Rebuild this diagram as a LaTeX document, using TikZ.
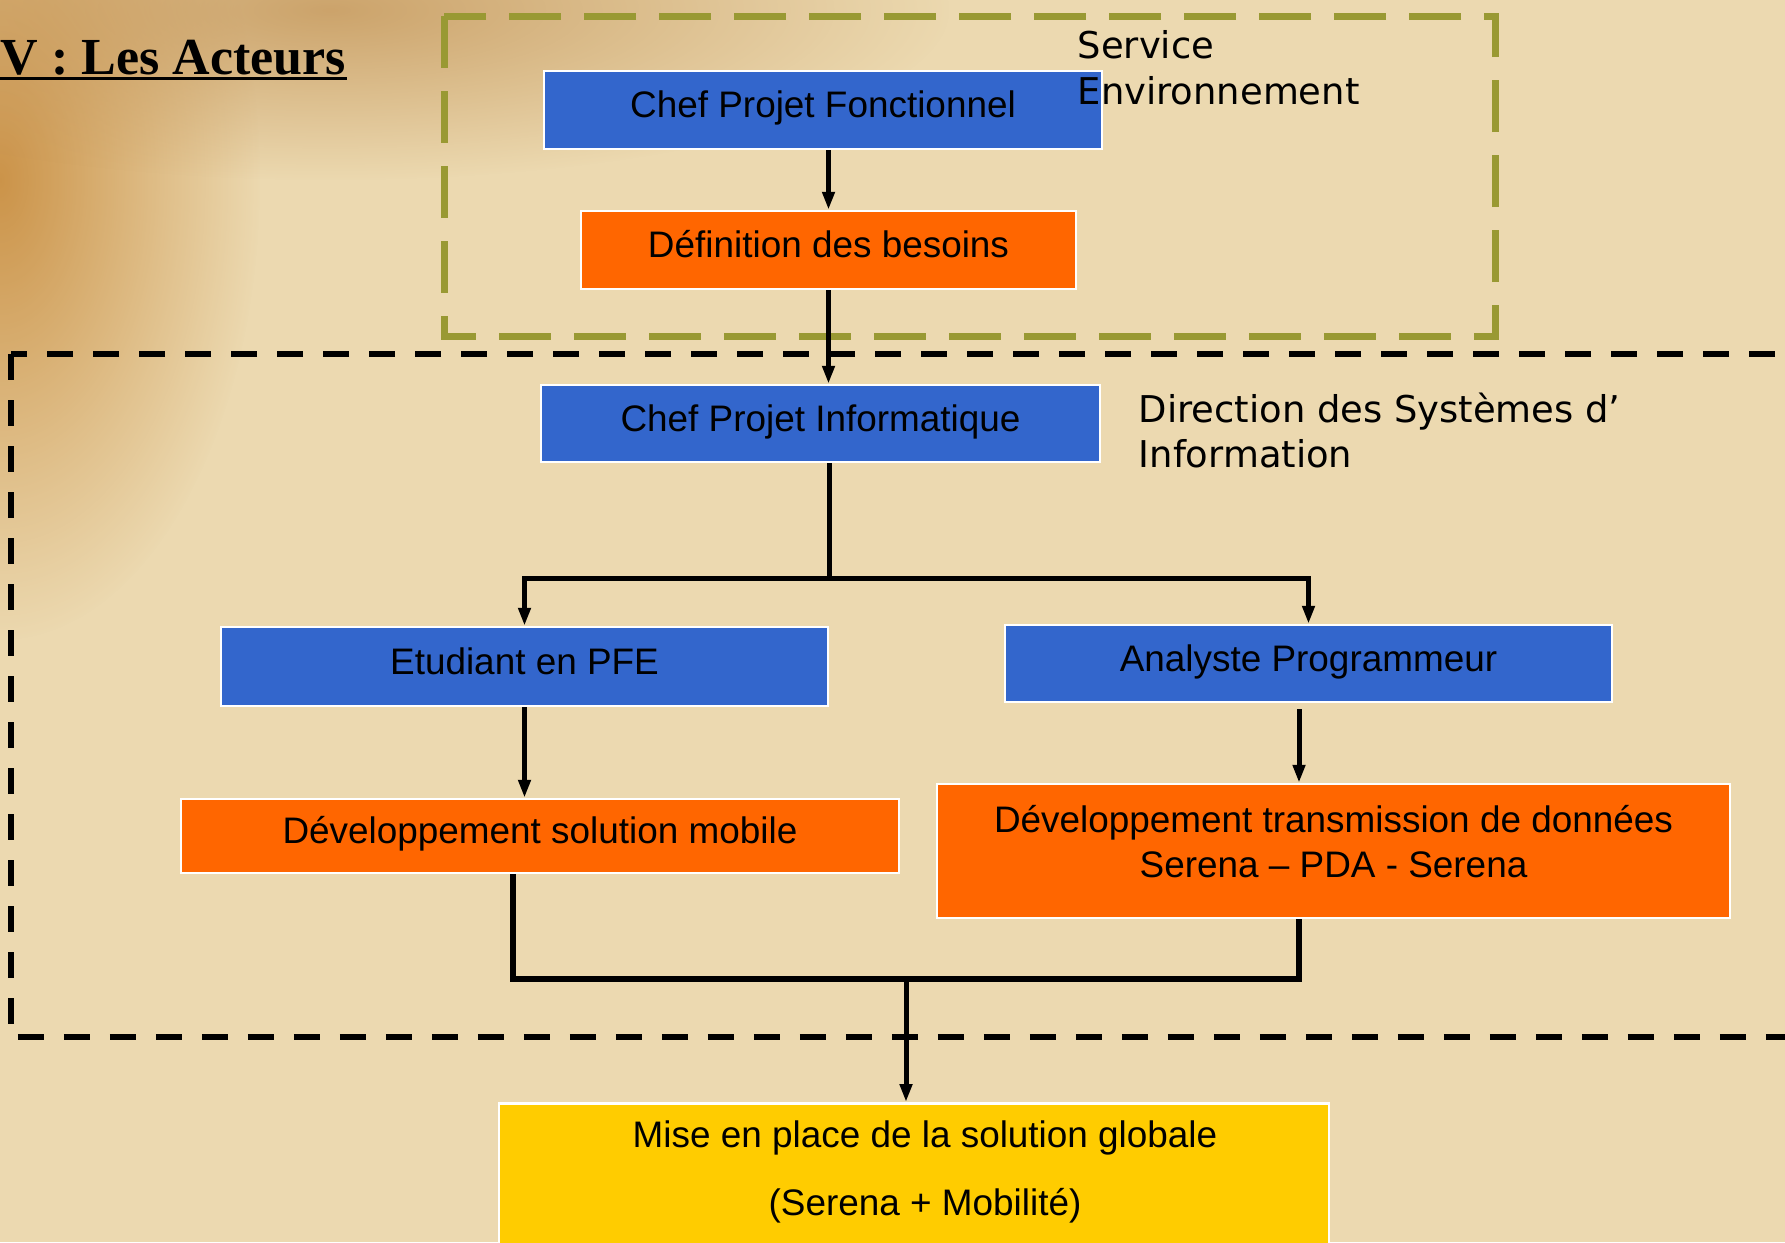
\documentclass[tikz,border=0pt]{standalone}
\usepackage{fontspec}
\setmainfont{Liberation Sans}
\newfontfamily\dejavu{DejaVu Sans}
\newfontfamily\timesb{Liberation Serif}
\usetikzlibrary{arrows.meta,calc,fadings}
\definecolor{bg}{RGB}{236,217,176}
\definecolor{brownblob}{RGB}{200,140,62}
\definecolor{brownblob2}{RGB}{196,150,90}
\definecolor{myblue}{RGB}{51,102,204}
\definecolor{myorange}{RGB}{255,102,0}
\definecolor{myyellow}{RGB}{255,204,0}
\definecolor{myolive}{RGB}{153,153,51}
\tikzfading[name=fuzzyball, inner color=transparent!0, outer color=transparent!100]
\tikzset{
  box/.style={draw=white, line width=0.25mm, inner sep=0pt, text=black, align=center,
    font=\fontsize{10.5}{13}\selectfont},
  onebox/.style={box, text height=2.7mm, text depth=1.2mm},
  bluebox/.style={onebox, fill=myblue},
  orangebox/.style={onebox, fill=myorange},
  orangeboxtwo/.style={box, fill=myorange},
  yellowbox/.style={box, fill=myyellow},
  conn/.style={line width=0.5mm, draw=black},
  mergeconn/.style={line width=0.6mm, draw=black},
  arr/.style={conn, -{Triangle[length=1.8mm,width=1.2mm]}},
  lbl/.style={font=\dejavu\fontsize{10.5}{13}\selectfont, anchor=north west, inner sep=0pt, align=left},
  olivedash/.style={draw=myolive, line width=0.7mm, dash pattern=on 5.2mm off 2.3mm},
  blackdash/.style={draw=black, line width=0.6mm, dash pattern=on 2.6mm off 2.0mm},
}
\begin{document}
\begin{tikzpicture}[x=0.1mm,y=-0.1mm]
\useasboundingbox (0,0) rectangle (1785,1242);
\clip (0,0) rectangle (1785,1242);
% background
\fill[bg] (0,0) rectangle (1785,1242);
\fill[brownblob, path fading=fuzzyball, fill opacity=0.9] (0,180) ellipse (260 and 460);
\fill[brownblob2, path fading=fuzzyball, fill opacity=0.8] (330,10) ellipse (620 and 170);

% group frames
\draw[olivedash] (444,16) rectangle (1495,336);
\draw[blackdash] (11,354) rectangle (1820,1037);

% title
\node[font=\timesb\bfseries\fontsize{14.8}{17}\selectfont, anchor=base west, inner sep=0pt] (title) at (0,74) {V : Les Acteurs};
\draw[line width=0.35mm] ([yshift=-0.45mm]title.base west) -- ([yshift=-0.45mm]title.base east);

% boxes
\node[bluebox, minimum width=55.8mm, minimum height=7.8mm] (cpf) at (823,110) {Chef Projet Fonctionnel};
\node[orangebox, minimum width=49.5mm, minimum height=7.8mm] (def) at (828.5,250) {Définition des besoins};
\node[bluebox, minimum width=55.9mm, minimum height=7.7mm] (cpi) at (820.5,423.5) {Chef Projet Informatique};
\node[bluebox, minimum width=60.7mm, minimum height=7.9mm] (etu) at (524.5,666.5) {Etudiant en PFE};
\node[bluebox, minimum width=60.7mm, minimum height=7.7mm] (ana) at (1308.5,663.5) {Analyste Programmeur};
\node[orangebox, minimum width=71.8mm, minimum height=7.4mm] (devm) at (540,836) {Développement solution mobile};
\node[orangeboxtwo, minimum width=79.3mm, minimum height=13.4mm] (devt) at (1333.5,851) {\begin{tabular}{@{}c@{}}Développement transmission de données\\Serena – PDA - Serena\rule[-2.4mm]{0pt}{1mm}\end{tabular}};
\node[yellowbox, minimum width=83mm, minimum height=20mm, anchor=north] (mise) at (914,1102) {};
\node[font=\fontsize{10.5}{12.6}\selectfont, inner sep=0pt, align=center] (misetxt) at (925,1172) {Mise en place de la solution globale\\[6.6pt](Serena + Mobilité)};

% connectors
\coordinate (br) at (829,578);
\coordinate (mL) at (513,979);
\coordinate (mR) at (1299,979);
\coordinate (mC) at (906,979);
\coordinate (a2) at ($(ana.south)+(-9.5,6)$);
\draw[arr] (def.north |- cpf.south) -- (def.north);
\draw[arr] (def.south) -- (def.south |- cpi.north);
\draw[conn] (br |- cpi.south) -- (br);
\draw[arr] (br) -| (etu.north);
\draw[arr] (br) -| (ana.north);
\draw[arr] (etu.south) -- (etu.south |- devm.north);
\draw[arr] (a2) -- (a2 |- devt.north);
\draw[mergeconn] (devm.south -| mL) -- (mL) -- (mR) -- (devt.south -| mR);
\draw[arr] (mC) -- (mise.north -| mC);

% group labels
\node[lbl] (svc) at (1077,30) {Service\\Environnement};
\node[lbl] (dsi) at (1138,392) {Direction des Systèmes d’\\Information};
\end{tikzpicture}
\end{document}
